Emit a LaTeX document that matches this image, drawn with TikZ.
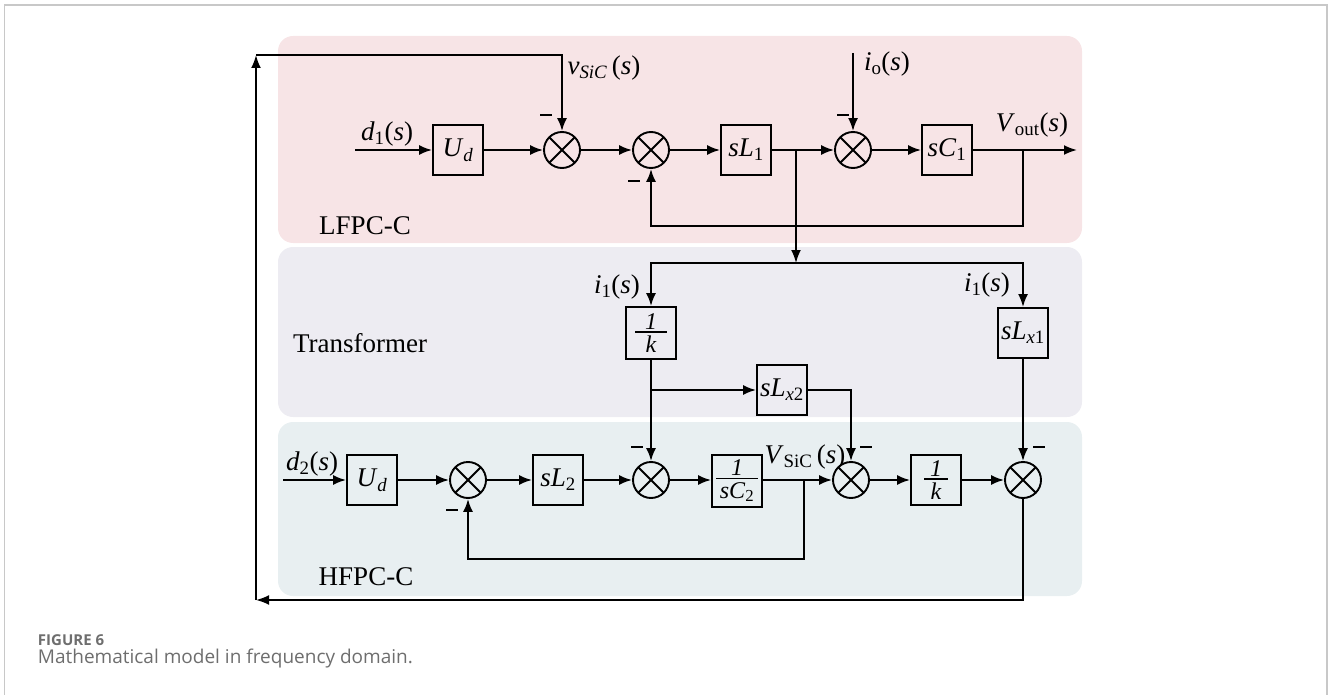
\documentclass[tikz,border=0pt]{standalone}
\usepackage{fontspec}
\setmainfont{Liberation Serif}
\newfontfamily\capfont{Open Sans}
\usetikzlibrary{arrows.meta}
\definecolor{pinkbg}{RGB}{247,228,230}
\definecolor{lavbg}{RGB}{237,236,242}
\definecolor{bluebg}{RGB}{232,239,241}
\definecolor{capgray}{RGB}{110,110,110}
\definecolor{framegray}{RGB}{200,200,200}
\newcommand{\fs}{\fontsize{24}{25}\selectfont}
\newcommand{\fracx}[3]{$\vcenter{\offinterlineskip\halign{\hfil##\hfil\cr\fs #2\cr\noalign{\vskip2pt}\rule{#1}{1.4pt}\cr\noalign{\vskip3pt}\fs #3\cr}}$}
\begin{document}
\begin{tikzpicture}[x=1pt,y=-1pt,
  line width=1.9pt,
  every node/.style={font=\fontsize{27}{30}\selectfont},
  blk/.style={draw, line width=1.9pt, minimum width=50pt, minimum height=50pt, inner sep=0pt},
  fblk/.style={blk, minimum height=52pt},
  sumj/.style={draw, circle, line width=1.9pt, minimum size=36pt, inner sep=0pt,
    path picture={\draw[line width=1.9pt]
      ([shift={(-20pt,-20pt)}]path picture bounding box.center) -- ([shift={(20pt,20pt)}]path picture bounding box.center)
      ([shift={(-20pt,20pt)}]path picture bounding box.center) -- ([shift={(20pt,-20pt)}]path picture bounding box.center);}},
  arr/.style={-{Latex[length=13pt,width=10pt]}},
  lbl/.style={inner sep=0pt},
  minus/.style={inner sep=0pt},
]
\useasboundingbox (0,0) rectangle (1330,695);
% frame
\draw[framegray, line width=1.4pt] (4.5,695) -- (4.5,5) -- (1327,5) -- (1327,695);
% panels
\fill[pinkbg, rounded corners=15pt] (278,36) rectangle (1082,243);
\fill[lavbg, rounded corners=15pt] (278,247) rectangle (1082,417);
\fill[bluebg, rounded corners=15pt] (278,422) rectangle (1082,596);
\node[lbl] (tLF) at (365,226) {LFPC-C};
\node[lbl] (tTR) at (360,343) {Transformer};
\node[lbl] (tHF) at (366,577) {HFPC-C};

% top row
\coordinate (in1) at (355,150);
\node[blk] (Ud1) at (458,150) {\textit{U}\textsubscript{\textit{d}}};
\node[sumj] (s1) at (562,150) {};
\node[sumj] (s2) at (651,150) {};
\node[blk] (L1) at (746,150) {\textit{sL}\textsubscript{1}};
\coordinate (br1) at (796,150);
\node[sumj] (s3) at (853,150) {};
\node[blk] (C1) at (947,150) {\textit{sC}\textsubscript{1}};
\coordinate (vb) at (1023,150);
\coordinate (out) at (1077,150);
\coordinate (fb1) at (1023,226);
\coordinate (iotop) at (853,53);

\node[lbl] (ld1) at (387,134) {\textit{d}\textsubscript{1}(\textit{s})};
\node[lbl] (lvs) at (604,68) {\textit{v}\textsubscript{\textit{SiC}}\,(\textit{s})};
\node[lbl] (lio) at (887,64) {\textit{i}\textsubscript{o}(\textit{s})};
\node[lbl] (lvo) at (1032,125) {\textit{V}\textsubscript{out}(\textit{s})};

% transformer
\coordinate (br1b) at (796,263);
\coordinate (tl) at (651,263);
\coordinate (tr) at (1023,263);
\node[fblk] (K1) at (651,333) {\fracx{32pt}{\textit{1}}{\textit{k}}};
\node[blk] (Lx1) at (1023,333) {\textit{sL}\textsubscript{\textit{x}1}};
\coordinate (k1b) at (651,390);
\node[blk] (Lx2) at (782,390) {\textit{sL}\textsubscript{\textit{x}2}};
\node[lbl] (li1a) at (617,287) {\textit{i}\textsubscript{1}(\textit{s})};
\node[lbl] (li1b) at (987,285) {\textit{i}\textsubscript{1}(\textit{s})};

% bottom row
\coordinate (in2) at (283,480);
\node[blk] (Ud2) at (372,480) {\textit{U}\textsubscript{\textit{d}}};
\node[sumj] (s4) at (468,480) {};
\node[blk] (L2) at (558,480) {\textit{sL}\textsubscript{2}};
\node[sumj] (s5) at (651,480) {};
\node[fblk] (C2) at (737,481) {\fracx{42pt}{\textit{1}}{\textit{sC}\textsubscript{2}}};
\coordinate (vsb) at (804,480);
\coordinate (vsb2) at (804,559);
\node[sumj] (s6) at (851,480) {};
\node[blk] (K2) at (936,480) {\fracx{24pt}{\textit{1}}{\textit{k}}};
\node[sumj] (s7) at (1023,480) {};
\coordinate (cbl) at (256,600);
\coordinate (ctl) at (256,55);
\node[lbl] (ld2) at (312,464) {\textit{d}\textsubscript{2}(\textit{s})};
\node[lbl] (lVs) at (805,457) {\textit{V}\textsubscript{SiC}\,(\textit{s})};

% minus signs
\node[minus] (m1) at (546,115) {\rule{12pt}{2.8pt}};
\node[minus] (m2) at (634,181) {\rule{12pt}{2.8pt}};
\node[minus] (m3) at (843,115) {\rule{12pt}{2.8pt}};
\node[minus] (m4) at (452,510) {\rule{12pt}{2.8pt}};
\node[minus] (m5) at (637,447) {\rule{12pt}{2.8pt}};
\node[minus] (m6) at (866,447) {\rule{12pt}{2.8pt}};
\node[minus] (m7) at (1039,447) {\rule{12pt}{2.8pt}};

% connectors top
\draw[arr] (in1) -- (Ud1);
\draw[arr] (Ud1) -- (s1);
\draw[arr] (s1) -- (s2);
\draw[arr] (s2) -- (L1);
\draw[arr] (L1) -- (s3);
\draw[arr] (s3) -- (C1);
\draw[arr] (C1) -- (out);
\draw[arr] (vb) -- (fb1) -| (s2.south);
\draw[arr] (iotop) -- (s3.north);
\draw[arr] (br1) -- (br1b);
% transformer
\draw[arr] (tr) -- (tl) -- (K1.north);
\draw[arr] (tl) -- (tr) -- (Lx1.north);
\draw[arr] (K1.south) -- (s5.north);
\draw[arr] (k1b) -- (Lx2.west);
\draw[arr] (Lx2.east) -| (s6.north);
\draw[arr] (Lx1.south) -- (s7.north);
% bottom
\draw[arr] (in2) -- (Ud2);
\draw[arr] (Ud2) -- (s4);
\draw[arr] (s4) -- (L2);
\draw[arr] (L2) -- (s5);
\draw[arr] (s5) -- (C2.west|-s5);
\draw[arr] (C2.east|-s6) -- (s6);
\draw[arr] (s6) -- (K2);
\draw[arr] (K2) -- (s7);
\draw[arr] (vsb) -- (vsb2) -| (s4.south);
% outer loop
\draw[arr] (s7.south) |- (cbl);
\draw[arr] (cbl) -- (ctl);
\draw[arr] (ctl) -| (s1.north);

% caption
\node[anchor=base west, inner sep=0pt, font=\capfont\bfseries\fontsize{15}{18}\selectfont, text=capgray] (fig) at (37,645) {FIGURE 6};
\node[anchor=base west, inner sep=0pt, font=\capfont\fontsize{19}{22}\selectfont, text=capgray] (cap) at (37,663) {Mathematical model in frequency domain.};
\end{tikzpicture}
\end{document}
